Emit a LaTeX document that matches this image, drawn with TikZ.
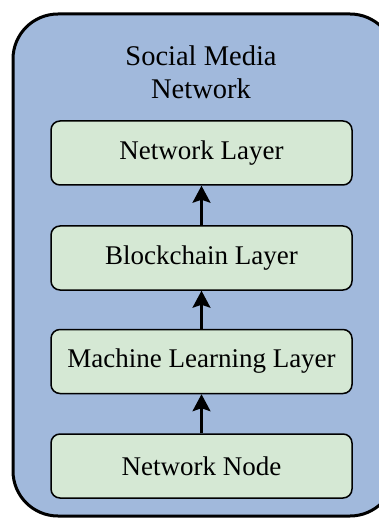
\documentclass[tikz,border=0pt]{standalone}
\usepackage{fontspec}
\setmainfont{Liberation Serif}
\usetikzlibrary{arrows.meta}
\definecolor{outerfill}{HTML}{A1B9DC}
\definecolor{innerfill}{HTML}{D5E8D4}
\tikzset{
  layerbox/.style={draw=black, line width=1.5pt, fill=innerfill, rounded corners=9pt,
    minimum width=301pt, minimum height=64pt, inner sep=0pt,
    font=\fontsize{27}{31}\selectfont},
  uparrow/.style={line width=2.2pt, -{Stealth[width=18pt,length=17pt,inset=3pt]}},
}
\begin{document}
\begin{tikzpicture}[x=1pt,y=1pt]
\useasboundingbox (0,0) rectangle (379,-518);
\begin{scope}
\clip (0,0) rectangle (379,-518);
\draw[line width=3pt, fill=outerfill, rounded corners=45pt] (13,-14) rectangle (395,-516);
\end{scope}
\node[font=\fontsize{28.5}{33}\selectfont, align=center] (title) at (201,-72) {Social Media\\Network};
\node[layerbox] (nl) at (201.5,-153) {Network Layer};
\node[layerbox] (bl) at (201.5,-258) {Blockchain Layer};
\node[layerbox] (ml) at (201.5,-361.5) {Machine Learning Layer};
\node[layerbox] (nn) at (201.5,-466) {Network Node};
\draw[uparrow] (bl.north) -- (nl.south);
\draw[uparrow] (ml.north) -- (bl.south);
\draw[uparrow] (nn.north) -- (ml.south);
\end{tikzpicture}
\end{document}
